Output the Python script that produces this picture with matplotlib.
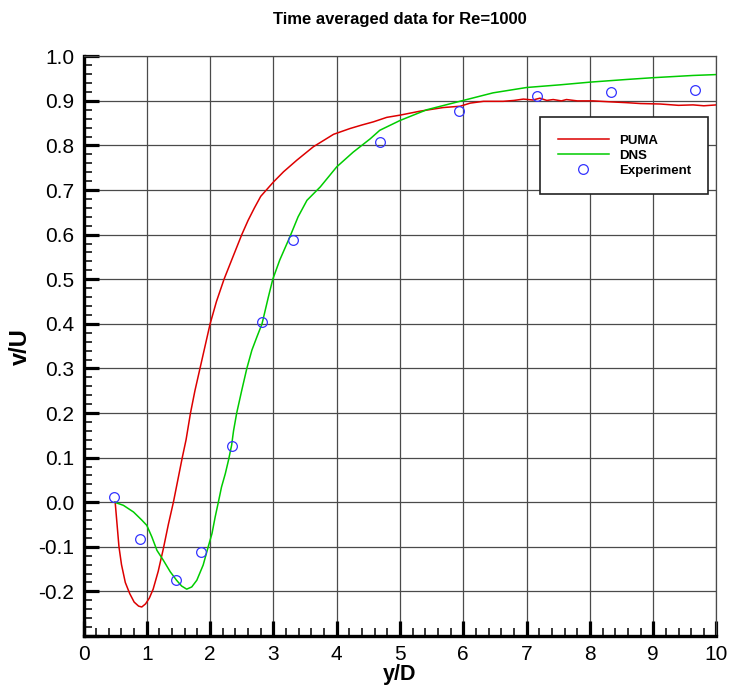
import numpy as np
import matplotlib
matplotlib.use("Agg")
import matplotlib.pyplot as plt
from matplotlib.ticker import MultipleLocator, FuncFormatter, FormatStrFormatter

plt.rcParams['font.family'] = ['Liberation Sans', 'DejaVu Sans']

# PUMA simulation profile
puma_x = [0.50, 0.53, 0.56, 0.60, 0.66, 0.73, 0.80, 0.87, 0.92, 0.98, 1.04, 1.10,
          1.18, 1.26, 1.34, 1.42, 1.49, 1.56, 1.62, 1.69, 1.76, 1.84, 1.92, 2.00,
          2.10, 2.22, 2.34, 2.50, 2.60, 2.70, 2.80, 2.90, 3.00, 3.16, 3.37, 3.63, 3.95,
          4.21, 4.40, 4.58, 4.79, 5.00, 5.32, 5.68, 5.95, 6.11, 6.32, 6.63, 6.80,
          6.95, 7.10, 7.21, 7.32, 7.42, 7.55, 7.63, 7.80, 8.05, 8.30, 8.58, 8.80,
          9.11, 9.40, 9.63, 9.80, 10.0]
puma_v = [0.000, -0.050, -0.100, -0.140, -0.180, -0.205, -0.224, -0.233, -0.235, -0.228,
          -0.215, -0.195, -0.155, -0.105, -0.050, 0.000, 0.050, 0.100, 0.140, 0.200,
          0.250, 0.300, 0.350, 0.400, 0.450, 0.500, 0.543, 0.600, 0.632, 0.660,
          0.686, 0.702, 0.718, 0.741, 0.767, 0.797, 0.825, 0.838, 0.846, 0.853, 0.863,
          0.868, 0.877, 0.885, 0.888, 0.895, 0.899, 0.899, 0.901, 0.904, 0.902,
          0.906, 0.901, 0.903, 0.900, 0.903, 0.900, 0.900, 0.898, 0.896, 0.894,
          0.893, 0.890, 0.891, 0.889, 0.891]

# DNS profile
dns_x = [0.49, 0.63, 0.79, 0.92, 1.00, 1.08, 1.16, 1.26, 1.37, 1.47, 1.55, 1.63,
         1.71, 1.79, 1.89, 1.97, 2.03, 2.08, 2.13, 2.18, 2.24, 2.29, 2.34, 2.37,
         2.42, 2.50, 2.58, 2.66, 2.74, 2.82, 2.92, 2.99, 3.10, 3.26, 3.39, 3.53,
         3.74, 4.00, 4.26, 4.53, 4.68, 5.00, 5.42, 6.00, 6.47, 7.00, 7.53, 8.00,
         8.58, 9.00, 9.63, 10.0]
dns_v = [0.000, -0.007, -0.022, -0.040, -0.052, -0.078, -0.108, -0.130, -0.156, -0.175,
         -0.188, -0.195, -0.190, -0.175, -0.141, -0.100, -0.070, -0.033, 0.000, 0.034,
         0.064, 0.094, 0.128, 0.160, 0.200, 0.251, 0.300, 0.341, 0.371, 0.400,
         0.460, 0.500, 0.543, 0.595, 0.640, 0.677, 0.707, 0.752, 0.785, 0.815,
         0.834, 0.856, 0.880, 0.901, 0.918, 0.930, 0.936, 0.942, 0.948, 0.952,
         0.957, 0.959]

# Experimental measurements
exp_x = [0.48, 0.90, 1.46, 1.86, 2.35, 2.825, 3.315, 4.68, 5.93, 7.17, 8.34, 9.66]
exp_v = [0.011, -0.082, -0.175, -0.112, 0.125, 0.403, 0.588, 0.807, 0.877, 0.910, 0.919, 0.925]

fig = plt.figure(figsize=(7.32, 6.94), dpi=100)
ax = fig.add_axes([0.1141, 0.0836, 0.8647, 0.8353])

ax.plot(puma_x, puma_v, color='#dd0000', lw=1.1, label='PUMA', zorder=3)
ax.plot(dns_x, dns_v, color='#00cc00', lw=1.1, label='DNS', zorder=3)
ax.plot(exp_x, exp_v, linestyle='none', marker='o', markersize=7,
        markerfacecolor='none', markeredgecolor='#3333ff', markeredgewidth=0.9,
        label='Experiment', zorder=4)

ax.set_xlim(0, 10)
ax.set_ylim(-0.3, 1.0)
ax.xaxis.set_major_locator(MultipleLocator(1))
ax.xaxis.set_minor_locator(MultipleLocator(0.2))
ax.yaxis.set_major_locator(MultipleLocator(0.1))
ax.yaxis.set_minor_locator(MultipleLocator(0.02))
ax.yaxis.set_major_formatter(
    FuncFormatter(lambda v, pos: '' if v < -0.25 else f'{v:.1f}'))
ax.xaxis.set_major_formatter(FormatStrFormatter('%d'))

ax.grid(True, which='major', color='#4a4a4a', lw=0.9, zorder=1)
ax.set_axisbelow(True)

ax.tick_params(which='major', direction='in', length=10.5, width=2.3,
               labelsize=15, pad=6.5, top=False, right=False)
ax.tick_params(which='minor', direction='in', length=6, width=1.1,
               top=False, right=False)

for side in ('left', 'bottom'):
    ax.spines[side].set_linewidth(2.4)
    ax.spines[side].set_color('black')
for side in ('top', 'right'):
    ax.spines[side].set_linewidth(0.9)
    ax.spines[side].set_color('#4a4a4a')

ax.set_xlabel('y/D', fontsize=15.5, fontweight='bold', labelpad=0)
ax.set_ylabel('v/U', fontsize=17, fontweight='bold', labelpad=5)
ax.set_title('Time averaged data for Re=1000', fontsize=12, fontweight='bold', pad=23)

leg = ax.legend(loc='upper right', bbox_to_anchor=(0.987, 0.895), borderaxespad=0,
                prop={'size': 9.5, 'weight': 'bold'}, handlelength=3.9,
                handletextpad=0.75, labelspacing=0.22, borderpad=1.3,
                fancybox=False, framealpha=1, edgecolor='#222222')
leg.get_frame().set_linewidth(1.2)
leg.set_zorder(5)

fig.savefig('out.png', dpi=100)
